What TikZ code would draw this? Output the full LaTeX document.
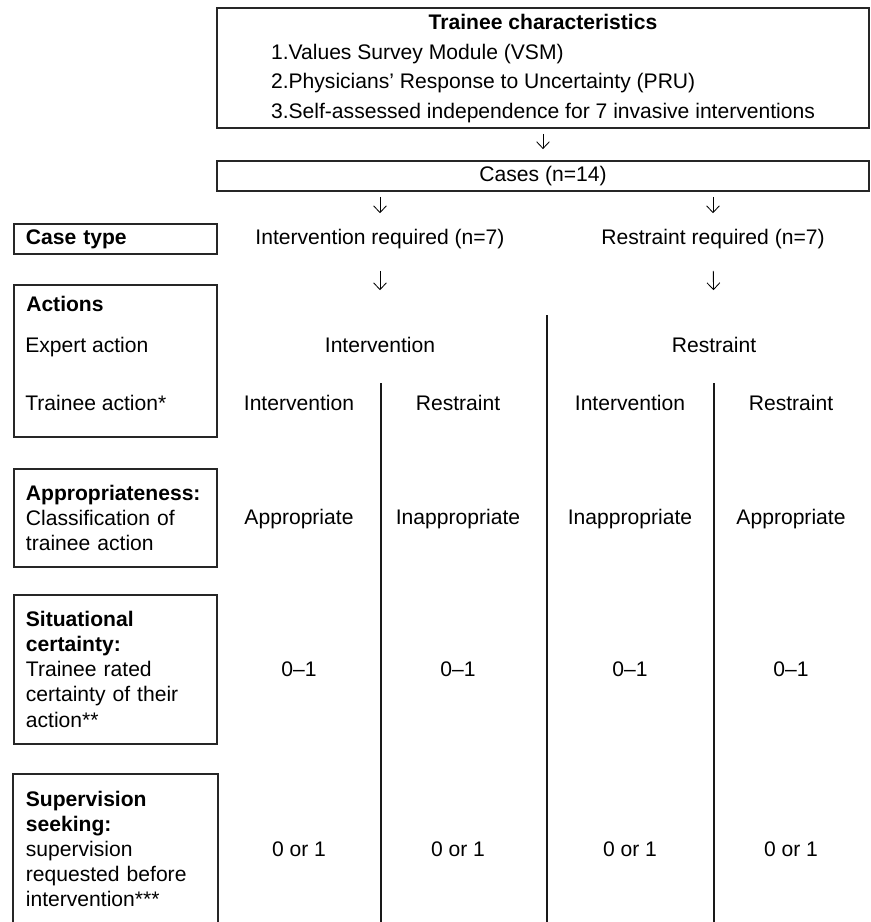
\documentclass[tikz,border=0pt]{standalone}
\usepackage{fontspec}
\setmainfont{Liberation Sans}
\usepackage{tikz}
\usetikzlibrary{arrows.meta, positioning, calc}

\begin{document}
\begin{tikzpicture}[
    >={Straight Barb[length=0.17cm, width=0.32cm]},
    font=\fontsize{15}{17.8}\selectfont,
    box/.style={draw=black!85, line width=1.3pt, inner sep=0pt},
    rowbox/.style={box, anchor=north west, inner xsep=0.3cm, text width=4.475cm, align=left},
    cell/.style={inner sep=0pt, text height=10.7pt, text depth=0pt},
    flow/.style={->, line width=0.6pt},
    divider/.style={line width=0.9pt, black!90}
]

\useasboundingbox (0,0) rectangle (21.75,-23.05);

% === top boxes ===
\node[box, minimum width=16.3cm, minimum height=3cm] (chars) at (13.575,-1.7)
    {\fontsize{15}{21.3}\selectfont
     \begin{tabular}{@{}l@{}}
     \multicolumn{1}{@{}c@{}}{\bfseries Trainee characteristics}\\
     1.Values Survey Module (VSM)\\
     2.Physicians' Response to Uncertainty (PRU)\\
     3.Self-assessed independence for 7 invasive interventions
     \end{tabular}};
\node[box, minimum width=16.3cm, minimum height=0.75cm] (cases) at (13.575,-4.4) {Cases (n=14)};

% === case type ===
\node[cell] (ireq) at (9.5,-5.925) {Intervention required (n=7)};
\node[cell] (rreq) at (17.825,-5.925) {Restraint required (n=7)};

% === expert action ===
\node[cell] (iexp) at (9.5,-8.625) {Intervention};
\node[cell] (rexp) at (17.85,-8.625) {Restraint};

% === arrows ===
\draw[flow, shorten <=0.125cm, shorten >=0.275cm] (chars) -- (cases);
\draw[flow, shorten <=0.125cm, shorten >=0.4cm] (cases.south -| ireq) -- (ireq);
\draw[flow, shorten <=0.125cm, shorten >=0.4cm] (cases.south -| rreq) -- (rreq);
\draw[flow, shorten <=0.65cm, shorten >=1.175cm] (ireq) -- (iexp);
\draw[flow, shorten <=0.65cm, shorten >=1.175cm] (rreq) -- (rexp);

% === column dividers ===
\draw[divider] (13.675,-7.875) -- (13.675,-23.2);
\draw[divider] (9.525,-9.575) -- (9.525,-23.2);
\draw[divider] (17.85,-9.575) -- (17.85,-23.2);

% === left column ===
\node[rowbox, minimum height=0.75cm] (casetype) at (0.325,-5.575) {\bfseries Case type};
\node[rowbox, minimum height=3.8cm] (actions) at (0.325,-7.1) {};
\node[cell, anchor=west] (lactions) at (0.65,-7.6) {\bfseries Actions};
\node[cell, anchor=west, xshift=0.3cm] (lexpert) at (actions.west |- iexp) {Expert action};
\node[cell, anchor=west] (ltrainee) at (0.625,-10.075) {Trainee action*};
\node[rowbox, minimum height=2.45cm] (approp) at (0.325,-11.7)
    {\textbf{Appropriateness:}\\Classification of\\trainee action};
\node[rowbox, minimum height=3.725cm] (certain) at (0.325,-14.85)
    {\textbf{Situational}\\\textbf{certainty:}\\Trainee rated\\certainty of their\\action**};
\node[rowbox, draw=none, minimum height=3.7cm] (superv) at (0.325,-19.35)
    {\textbf{Supervision}\\\textbf{seeking:}\\supervision\\requested before\\intervention***};
\draw[black!85, line width=1.3pt] ($(superv.south west)+(0,-0.2)$) |- (superv.north east) -- ++(0,-3.9);

% === trainee action ===
\node[cell] (tint1) at (7.475,-10.075) {Intervention};
\node[cell] (tres1) at (11.45,-10.075) {Restraint};
\node[cell] (tint2) at (15.75,-10.075) {Intervention};
\node[cell] (tres2) at (19.775,-10.075) {Restraint};

% === appropriateness ===
\node[cell] (app1) at (7.475,-12.925) {Appropriate};
\node[cell] (inapp1) at (11.45,-12.925) {Inappropriate};
\node[cell] (inapp2) at (15.75,-12.925) {Inappropriate};
\node[cell] (app2) at (19.775,-12.925) {Appropriate};

% === certainty ===
\node[cell] (cert1) at (7.475,-16.725) {0--1};
\node[cell] (cert2) at (11.45,-16.725) {0--1};
\node[cell] (cert3) at (15.75,-16.725) {0--1};
\node[cell] (cert4) at (19.775,-16.725) {0--1};

% === supervision ===
\node[cell] (sup1) at (7.475,-21.225) {0 or 1};
\node[cell] (sup2) at (11.45,-21.225) {0 or 1};
\node[cell] (sup3) at (15.75,-21.225) {0 or 1};
\node[cell] (sup4) at (19.775,-21.225) {0 or 1};

\end{tikzpicture}
\end{document}
